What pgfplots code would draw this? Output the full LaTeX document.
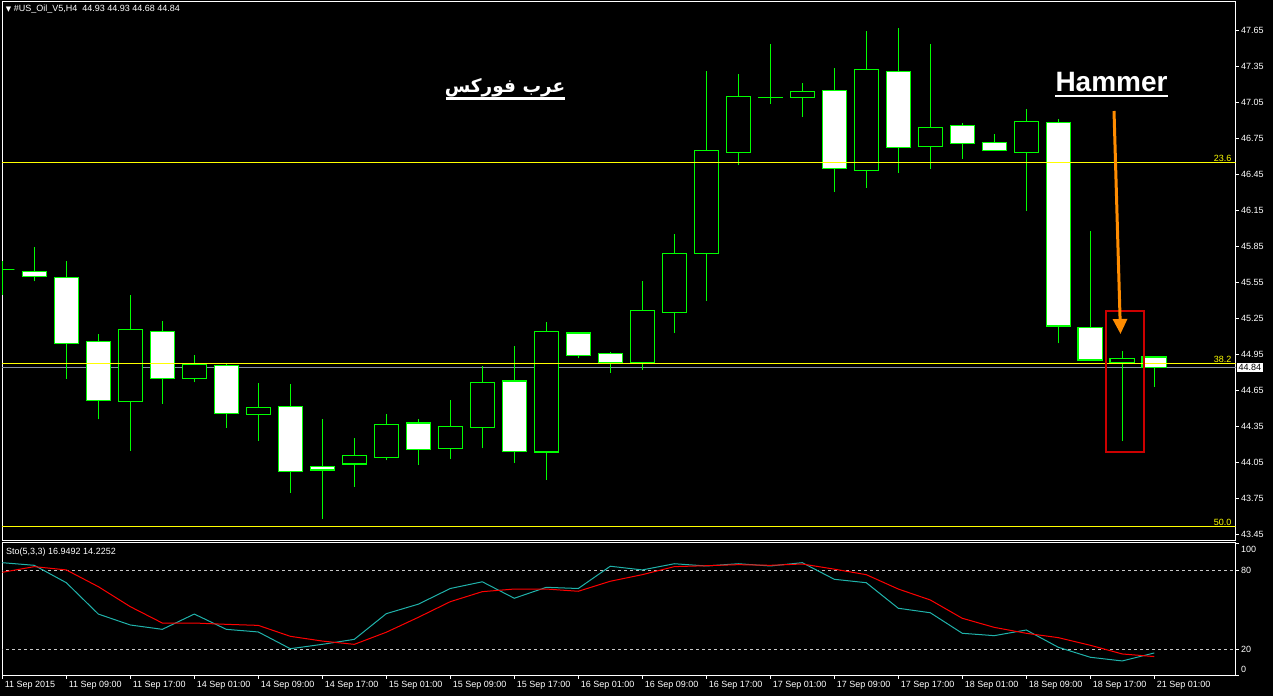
\documentclass[border=0pt]{standalone}
\usepackage{pgfplots}
\pgfplotsset{compat=1.18}
\usetikzlibrary{arrows.meta}
\usepackage{fontspec}
\setmainfont{Liberation Sans}
\newfontfamily\arabicfont[Script=Arabic]{DejaVu Sans}
\newfontfamily\dejavu{DejaVu Sans}
\TeXXeTstate=1
\definecolor{cgreen}{RGB}{0,255,0}
\definecolor{fibyellow}{RGB}{255,255,0}
\definecolor{bidgray}{RGB}{135,146,165}
\definecolor{kline}{RGB}{32,178,170}
\definecolor{dline}{RGB}{255,0,0}
\definecolor{arrowc}{RGB}{255,140,0}
\definecolor{boxred}{RGB}{204,0,0}
\definecolor{lvl}{RGB}{200,200,200}
\newcommand{\lbl}{\fontsize{9}{10}\selectfont}
% index, body left, body right, low, body bottom, body top, high, fill
\newcommand{\candle}[8]{%
  \addplot[cgreen, line width=1pt] coordinates {(#1,#4) (#1,#7)};
  \addplot[draw=cgreen, fill=#8, line width=1.2pt] coordinates {(#2,#5) (#3,#5) (#3,#6) (#2,#6)} -- cycle;}
\pgfplotstableread{
i K D
0 85.5 78.2
1 83.5 82.5
2 70.3 80.0
3 46.5 67.3
4 38.2 52.1
5 34.9 39.7
6 46.5 39.7
7 34.9 38.7
8 32.9 37.9
9 20.2 29.6
10 23.5 26.0
11 27.3 23.5
12 46.8 32.7
13 54.0 44.0
14 65.9 55.9
15 71.0 63.5
16 58.5 65.5
17 66.8 65.5
18 65.9 63.8
19 82.8 71.4
20 80.0 76.4
21 84.7 82.5
22 83.0 83.2
23 84.7 84.0
24 83.0 83.5
25 85.5 84.5
26 72.9 80.6
27 70.3 76.4
28 50.9 65.5
29 47.5 57.2
30 31.9 43.3
31 30.1 36.4
32 34.4 31.9
33 21.3 28.6
34 13.7 22.8
35 10.9 16.2
36 16.95 14.23
}\stoch
\begin{document}
\begin{tikzpicture}
\useasboundingbox (0pt,0pt) rectangle (1273pt,696pt);
\fill[black] (0pt,0pt) rectangle (1273pt,696pt);
\begin{axis}[at={(2pt,156pt)}, anchor=south west, scale only axis,
  width=1233.5pt, height=539pt,
  xmin=-0.01, xmax=38.54, ymin=43.406, ymax=47.897,
  axis line style={white, line width=0.8pt},
  xtick=\empty,
  ytick={43.45,43.75,44.05,44.35,44.65,44.95,45.25,45.55,45.85,46.15,46.45,46.75,47.05,47.35,47.65},
  ytick pos=right, yticklabel pos=right, tick align=outside, major tick length=3pt,
  tick style={white, line width=0.8pt},
  yticklabel style={text=white, font=\lbl, xshift=-1pt,
    /pgf/number format/.cd, fixed, fixed zerofill, precision=2, assume math mode=true},
  clip=true]
\addplot[bidgray, line width=1pt] coordinates {(-1,44.84) (40,44.84)};
\candle{0}{-0.38}{0.38}{45.45}{45.66}{45.66}{45.73}{white}
\candle{1}{0.62}{1.38}{45.56}{45.60}{45.645}{45.85}{white}
\candle{2}{1.62}{2.38}{44.75}{45.045}{45.595}{45.73}{white}
\candle{3}{2.62}{3.38}{44.41}{44.57}{45.06}{45.12}{white}
\candle{4}{3.62}{4.38}{44.15}{44.56}{45.16}{45.45}{black}
\candle{5}{4.62}{5.38}{44.54}{44.75}{45.145}{45.23}{white}
\candle{6}{5.62}{6.38}{44.72}{44.75}{44.87}{44.95}{black}
\candle{7}{6.62}{7.38}{44.34}{44.46}{44.86}{44.87}{white}
\candle{8}{7.62}{8.38}{44.23}{44.45}{44.51}{44.71}{black}
\candle{9}{8.62}{9.38}{43.80}{43.98}{44.52}{44.705}{white}
\candle{10}{9.62}{10.38}{43.58}{43.99}{44.02}{44.41}{white}
\candle{11}{10.62}{11.38}{43.85}{44.04}{44.11}{44.26}{black}
\candle{12}{11.62}{12.38}{44.07}{44.095}{44.37}{44.455}{black}
\candle{13}{12.62}{13.38}{44.03}{44.16}{44.38}{44.41}{white}
\candle{14}{13.62}{14.38}{44.08}{44.17}{44.35}{44.57}{black}
\candle{15}{14.62}{15.38}{44.17}{44.345}{44.72}{44.855}{black}
\candle{16}{15.62}{16.38}{44.05}{44.145}{44.73}{45.02}{white}
\candle{17}{16.62}{17.38}{43.91}{44.14}{45.14}{45.22}{black}
\candle{18}{17.62}{18.38}{44.92}{44.945}{45.13}{45.14}{white}
\candle{19}{18.62}{19.38}{44.80}{44.886}{44.96}{44.97}{white}
\candle{20}{19.62}{20.38}{44.825}{44.88}{45.32}{45.565}{black}
\candle{21}{20.62}{21.38}{45.13}{45.30}{45.79}{45.955}{black}
\candle{22}{21.62}{22.38}{45.40}{45.79}{46.65}{47.31}{black}
\candle{23}{22.62}{23.38}{46.53}{46.637}{47.10}{47.29}{black}
\candle{24}{23.62}{24.38}{47.04}{47.09}{47.095}{47.54}{black}
\candle{25}{24.62}{25.38}{46.93}{47.095}{47.145}{47.21}{black}
\candle{26}{25.62}{26.38}{46.308}{46.503}{47.153}{47.339}{white}
\candle{27}{26.62}{27.38}{46.342}{46.487}{47.328}{47.6475}{black}
\candle{28}{27.62}{28.38}{46.467}{46.678}{47.312}{47.672}{white}
\candle{29}{28.62}{29.38}{46.50}{46.686}{46.845}{47.539}{black}
\candle{30}{29.62}{30.38}{46.583}{46.712}{46.862}{46.878}{white}
\candle{31}{30.62}{31.38}{46.65}{46.653}{46.72}{46.789}{white}
\candle{32}{31.62}{32.38}{46.15}{46.637}{46.895}{46.9975}{black}
\candle{33}{32.62}{33.38}{45.045}{45.189}{46.887}{46.914}{white}
\candle{34}{33.62}{34.38}{44.90}{44.906}{45.178}{45.98}{white}
\candle{35}{34.62}{35.38}{44.23}{44.886}{44.92}{44.98}{black}
\candle{36}{35.62}{36.38}{44.68}{44.84}{44.93}{44.93}{white}
\addplot[fibyellow, line width=1pt] coordinates {(-1,46.553) (40,46.553)};
\addplot[fibyellow, line width=1pt] coordinates {(-1,44.878) (40,44.878)};
\addplot[fibyellow, line width=1pt] coordinates {(-1,43.52) (40,43.52)};
\node[anchor=south east, text=fibyellow, font=\lbl, inner sep=1pt] at (axis cs:38.45,46.553) {23.6};
\node[anchor=south east, text=fibyellow, font=\lbl, inner sep=1pt] at (axis cs:38.45,44.878) {38.2};
\node[anchor=south east, text=fibyellow, font=\lbl, inner sep=1pt] at (axis cs:38.45,43.52) {50.0};
\end{axis}
\begin{axis}[at={(2pt,20.3pt)}, anchor=south west, scale only axis,
  width=1233.5pt, height=133.3pt,
  xmin=-0.01, xmax=38.54, ymin=-0.3, ymax=100.9,
  axis line style={white, line width=0.8pt},
  xtick={0,2,...,36},
  xticklabels={11 Sep 2015,11 Sep 09:00,11 Sep 17:00,14 Sep 01:00,14 Sep 09:00,14 Sep 17:00,15 Sep 01:00,15 Sep 09:00,15 Sep 17:00,16 Sep 01:00,16 Sep 09:00,16 Sep 17:00,17 Sep 01:00,17 Sep 09:00,17 Sep 17:00,18 Sep 01:00,18 Sep 09:00,18 Sep 17:00,21 Sep 01:00},
  xtick pos=left, xticklabel style={anchor=north west, text=white, font=\lbl, xshift=-1pt, yshift=1pt},
  ytick={0,20,80,100}, yticklabels={,,,}, ytick pos=right, yticklabel pos=right,
  extra y ticks={4.8,20,80,95.9}, extra y tick labels={0,20,80,100},
  extra y tick style={major tick length=0pt},
  yticklabel style={text=white, font=\lbl, xshift=2pt},
  tick align=outside, major tick length=3pt,
  tick style={white, line width=0.8pt},
  clip=true]
\addplot[lvl, line width=0.8pt, dash pattern=on 3pt off 3pt] coordinates {(-1,80) (40,80)};
\addplot[lvl, line width=0.8pt, dash pattern=on 3pt off 3pt] coordinates {(-1,20) (40,20)};
\addplot[kline, line width=1pt] table[x=i, y=K] {\stoch};
\addplot[dline, line width=1pt] table[x=i, y=D] {\stoch};
\end{axis}
% annotations (pixel coordinates)
\node[anchor=west, text=white, font=\lbl, inner sep=0pt] at (5.7pt,686.5pt) {{\dejavu\fontsize{7}{8}\selectfont ▼}\ \#US\_Oil\_V5,H4\ \ 44.93 44.93 44.68 44.84};
\node[anchor=west, text=white, font=\lbl, inner sep=0pt] at (6pt,144pt) {Sto(5,3,3) 16.9492 14.2252};
\node[anchor=base, text=white, inner sep=0pt] at (505pt,603pt) {\arabicfont\bfseries\fontsize{18.5}{22}\selectfont\beginR عرب فوركس\endR};
\draw[white, line width=2.5pt] (446pt,597.3pt) -- (565pt,597.3pt);
\node[anchor=base west, text=white, inner sep=0pt] at (1055.3pt,604.3pt) {\bfseries\fontsize{28}{30}\selectfont Hammer};
\draw[white, line width=2.5pt] (1055.3pt,600pt) -- (1168.3pt,600pt);
\draw[boxred, line width=2pt] (1105.7pt,385.3pt) rectangle (1144.3pt,244pt);
\draw[arrowc, line width=3pt, -{Triangle[width=14pt,length=15pt]}] (1114pt,585pt) -- (1120.5pt,362pt);
\node[anchor=west, fill=white, text=black, font=\lbl, inner sep=1.5pt] at (1237pt,328.3pt) {44.84};
\end{tikzpicture}
\end{document}
